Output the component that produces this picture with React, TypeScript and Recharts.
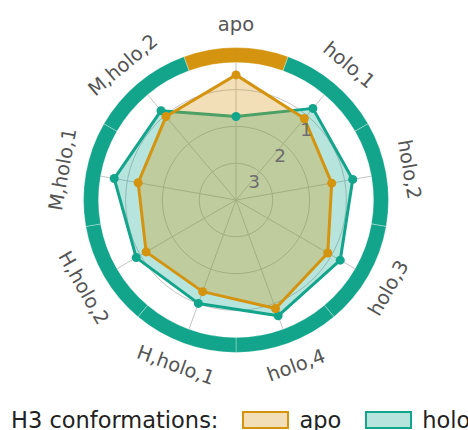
import { RadarChart, Radar, PolarGrid, PolarAngleAxis, PolarRadiusAxis, PieChart, Pie, Cell, Legend } from 'recharts'

const categories = ['apo', 'holo,1', 'holo,2', 'holo,3', 'holo,4', 'H,holo,1', 'H,holo,2', 'M,holo,1', 'M,holo,2']
const conformation = ['apo', 'holo', 'holo', 'holo', 'holo', 'holo', 'holo', 'holo', 'holo']
const apoValues = [0.6, 1.11, 1.36, 1.12, 0.86, 1.35, 1.18, 1.3, 1.04]
const holoValues = [1.73, 0.75, 0.78, 0.73, 0.65, 1.01, 0.87, 0.64, 0.83]
const radialTicks = [1, 2, 3]
const radialDomain = [0, 4]
const seriesNames = ['apo', 'holo']

const COLORS: Record<string, string> = { apo: '#d4940f', holo: '#12a58b' }
const FONT = '"DejaVu Sans", sans-serif'

const W = 468
const H = 430
const CX = 236
const CY = 200
const OUTER = 147.2
const LABEL_R = 176

const data = categories.map((name, i) => ({
  name,
  apo: apoValues[i],
  holo: holoValues[i],
}))

// one equal slice per category, coloured by the conformation it belongs to
const ring = categories.map((name, i) => ({ name, kind: conformation[i], size: 1 }))

function AngleTick({ payload }: any) {
  const angle = payload.coordinate
  const rad = (-angle * Math.PI) / 180
  const x = CX + LABEL_R * Math.cos(rad)
  const y = CY + LABEL_R * Math.sin(rad)
  let rot = 90 - angle
  rot = ((((rot + 90) % 180) + 180) % 180) - 90
  return (
    <text
      x={x}
      y={y}
      transform={`rotate(${rot}, ${x}, ${y})`}
      textAnchor="middle"
      dominantBaseline="central"
      fontFamily={FONT}
      fontSize={19.5}
      fill="#555"
    >
      {payload.value}
    </text>
  )
}

function RadiusTick({ x, y, payload }: any) {
  return (
    <text
      x={x - 8}
      y={y + 8}
      textAnchor="middle"
      dominantBaseline="central"
      fontFamily={FONT}
      fontSize={18.5}
      fill="#6e6e6e"
    >
      {payload.value}
    </text>
  )
}

function LegendContent() {
  return (
    <div
      style={{
        display: 'flex',
        alignItems: 'center',
        height: 26,
        lineHeight: '26px',
        fontFamily: FONT,
        fontSize: 22.5,
        color: '#222',
        whiteSpace: 'nowrap',
        paddingLeft: 11,
      }}
    >
      <span>H3 conformations:</span>
      {seriesNames.map((s) => (
        <span key={s} style={{ display: 'flex', alignItems: 'center', marginLeft: 24 }}>
          <svg width={47} height={18} style={{ display: 'block' }}>
            <rect x={1} y={1} width={45} height={16} fill={COLORS[s]} fillOpacity={0.3} stroke={COLORS[s]} strokeWidth={2} />
          </svg>
          <span style={{ marginLeft: 10 }}>{s}</span>
        </span>
      ))}
    </div>
  )
}

export default function App() {
  return (
    <div style={{ position: 'absolute', left: 0, top: 0, width: W, height: H, overflow: 'hidden', background: '#fff' }}>
      <RadarChart
        width={W}
        height={H}
        cx={CX}
        cy={CY}
        outerRadius={OUTER}
        data={data}
        margin={{ top: 0, right: 0, bottom: 0, left: 0 }}
        style={{ position: 'absolute', left: 0, top: 0 }}
      >
        <PolarGrid gridType="circle" stroke="#c4c4c4" strokeWidth={1} />
        <PolarAngleAxis dataKey="name" tick={<AngleTick />} tickLine={false} axisLine={false} />
        <PolarRadiusAxis
          angle={45}
          type="number"
          domain={radialDomain}
          ticks={radialTicks}
          reversed
          axisLine={false}
          tickLine={false}
          tick={<RadiusTick />}
        />
        <Radar
          name="holo"
          dataKey="holo"
          stroke={COLORS.holo}
          strokeWidth={3}
          strokeLinejoin="round"
          fill={COLORS.holo}
          fillOpacity={0.3}
          dot={{ r: 4.5, fill: COLORS.holo, fillOpacity: 1, strokeWidth: 0 }}
          isAnimationActive={false}
        />
        <Radar
          name="apo"
          dataKey="apo"
          stroke={COLORS.apo}
          strokeWidth={3}
          strokeLinejoin="round"
          fill={COLORS.apo}
          fillOpacity={0.3}
          dot={{ r: 4.5, fill: COLORS.apo, fillOpacity: 1, strokeWidth: 0 }}
          isAnimationActive={false}
        />
        <Legend
          content={<LegendContent />}
          wrapperStyle={{ position: 'absolute', left: 0, top: 407, width: W }}
        />
      </RadarChart>
      <PieChart
        width={W}
        height={H}
        margin={{ top: 0, right: 0, bottom: 0, left: 0 }}
        style={{ position: 'absolute', left: 0, top: 0, pointerEvents: 'none' }}
      >
        <Pie
          data={ring}
          dataKey="size"
          nameKey="name"
          cx={CX}
          cy={CY}
          innerRadius={137.5}
          outerRadius={152.5}
          startAngle={110}
          endAngle={-250}
          stroke="rgba(255,255,255,0.3)"
          strokeWidth={1}
          isAnimationActive={false}
        >
          {ring.map((d) => (
            <Cell key={d.name} fill={COLORS[d.kind]} />
          ))}
        </Pie>
      </PieChart>
    </div>
  )
}
